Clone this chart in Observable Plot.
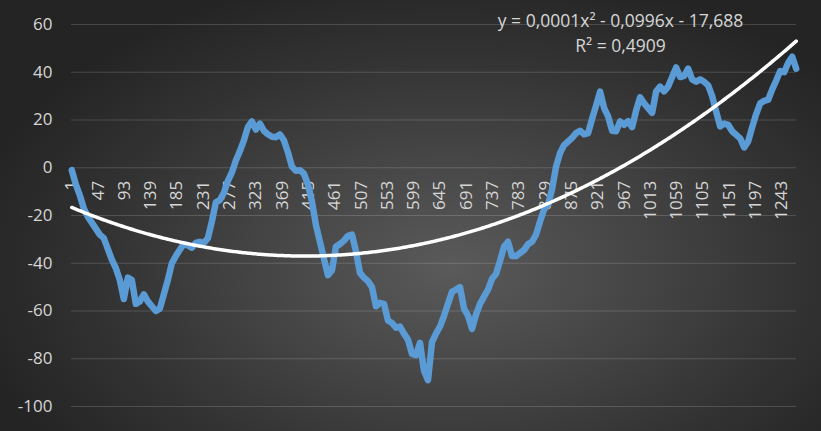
<!DOCTYPE html>
<html><head><meta charset="utf-8">
<script src="https://cdn.jsdelivr.net/npm/d3@7"></script>
<script src="https://cdn.jsdelivr.net/npm/@observablehq/plot@0.6"></script>
<style>
html,body{margin:0;padding:0;background:#262626;}
#chart{width:821px;height:431px;overflow:hidden;
  background:radial-gradient(ellipse 60% 70% at 55% 62%, #5a5a5a 0%, #474747 35%, #333333 70%, #242424 100%);}
#chart svg{display:block;}
</style></head><body><div id="chart"></div><script>
// First category index, spacing between read samples, last category
const firstCategory = 1;
const sampleStep = 7;
const lastCategory = 1268;

// values, one per sample (categories 1, 8, 15, ...)
const values = [
 -1, -7, -11.5, -17, -20.5, -23, -25.5, -28, -29.5, -34,
 -38.5, -42, -47, -55, -46, -47, -57, -56, -53, -56,
 -58, -60, -59, -53, -47, -40, -37, -34.3, -32, -32.5,
 -33.5, -31.5, -31, -31.5, -29.5, -22.5, -14.5, -13.5, -10.5, -5.5,
 -2, 3, 7, 11.5, 17, 19.4, 16, 18.5, 15.5, 14,
 13, 12.8, 14, 11.5, 6.5, 0.5, -1.3, -1, -2.5, -7,
 -14, -24, -31, -38, -45, -43, -33, -32, -30.5, -28.5,
 -28, -35, -44, -46, -47.5, -50, -58, -56.6, -57, -64,
 -65, -67, -66.5, -69.5, -72, -78, -78.5, -73.3, -85, -89,
 -73, -69.5, -66.5, -62, -57, -52, -51, -50, -59, -62,
 -67.5, -61.5, -57, -54, -51, -46.5, -44.5, -39, -33, -31,
 -37, -37, -35.7, -34.5, -32, -31, -28, -22.5, -17.5, -15.5,
 -9, 0.5, 6.2, 9.5, 11, 12.5, 14.5, 15.5, 14, 14.5,
 20.5, 26, 31.9, 25, 21.5, 15.5, 15.3, 19.4, 18, 19.5,
 17, 24, 29.5, 27, 25, 23, 32, 34, 32, 34,
 38, 42, 38, 38.5, 41.5, 37, 36, 37, 36, 34.5,
 30, 23.5, 17.3, 18.5, 18, 15.3, 13.8, 12.3, 8.5, 11,
 17, 22.5, 27, 28, 28.5, 32.8, 36.5, 40.5, 40, 44,
 46.5, 41.5
];
const categories = values.map((_, k) => firstCategory + sampleStep * k);

const xTickLabels = [1,47,93,139,185,231,277,323,369,415,461,507,553,599,645,691,737,783,829,875,921,967,1013,1059,1105,1151,1197,1243];
const yTicks = [-100,-80,-60,-40,-20,0,20,40,60];
const equationLines = ["y = 0,0001x\u00b2 - 0,0996x - 17,688", "R\u00b2 = 0,4909"];

const series = categories.map((c, i) => ({x: c, y: values[i]}));

// polynomial (order 2) least-squares trendline from the series
function quadFit(xs, ys) {
  const S = [0,0,0,0,0], T = [0,0,0];
  xs.forEach((x, i) => {
    let p = 1;
    for (let k = 0; k < 5; k++) { S[k] += p; if (k < 3) T[k] += p * ys[i]; p *= x; }
  });
  const M = [[S[4],S[3],S[2],T[2]],[S[3],S[2],S[1],T[1]],[S[2],S[1],S[0],T[0]]];
  for (let i = 0; i < 3; i++) {
    let m = i; for (let r = i+1; r < 3; r++) if (Math.abs(M[r][i]) > Math.abs(M[m][i])) m = r;
    [M[i], M[m]] = [M[m], M[i]];
    for (let r = 0; r < 3; r++) if (r !== i) {
      const f = M[r][i] / M[i][i];
      for (let c = i; c < 4; c++) M[r][c] -= f * M[i][c];
    }
  }
  return [M[0][3]/M[0][0], M[1][3]/M[1][1], M[2][3]/M[2][2]];
}
const [qa, qb, qc] = quadFit(categories, values);
const trend = d3.range(firstCategory, lastCategory + 1, 3).concat([lastCategory]).map(x => ({x, y: qa*x*x + qb*x + qc}));

const textColor = "#d6d6d6";
const chart = Plot.plot({
  width: 821, height: 431,
  marginLeft: 71, marginRight: 25, marginTop: 24, marginBottom: 25,
  style: {background: "transparent", fontFamily: "'Open Sans', sans-serif", fontSize: "17px", color: textColor, overflow: "visible"},
  x: {domain: [0.5, lastCategory + 0.5], axis: null},
  y: {domain: [-100, 60], axis: null},
  marks: [
    Plot.gridY(yTicks, {stroke: "#ffffff", strokeOpacity: 0.16, strokeWidth: 1}),
    Plot.axisY({ticks: yTicks, tickSize: 0, tickPadding: 19, tickFormat: d => String(d), label: null, fontSize: 17, fill: textColor}),
    Plot.text(xTickLabels, {x: d => d, y: 0, text: d => String(d), rotate: -90, textAnchor: "end", dy: 13, fill: textColor, fontSize: 17}),
    Plot.line(series, {x: "x", y: "y", stroke: "#5b9bd5", strokeWidth: 6.5, strokeLinejoin: "round", strokeLinecap: "round", curve: "linear"}),
    Plot.line(trend, {x: "x", y: "y", stroke: "#ffffff", strokeWidth: 3.5, curve: "linear"}),
    Plot.text([equationLines[0]], {frameAnchor: "top-right", text: d => d, dx: -176, dy: -3, textAnchor: "middle", lineAnchor: "middle", fill: textColor, fontSize: 17.5}),
    Plot.text([equationLines[1]], {frameAnchor: "top-right", text: d => d, dx: -176, dy: 22, textAnchor: "middle", lineAnchor: "middle", fill: textColor, fontSize: 17.5})
  ]
});
document.getElementById("chart").appendChild(chart);
d3.select(chart).selectAll("path[stroke='#5b9bd5']").style("filter", "drop-shadow(1.5px 2px 1.5px rgba(0,0,0,0.55))");
</script></body></html>
